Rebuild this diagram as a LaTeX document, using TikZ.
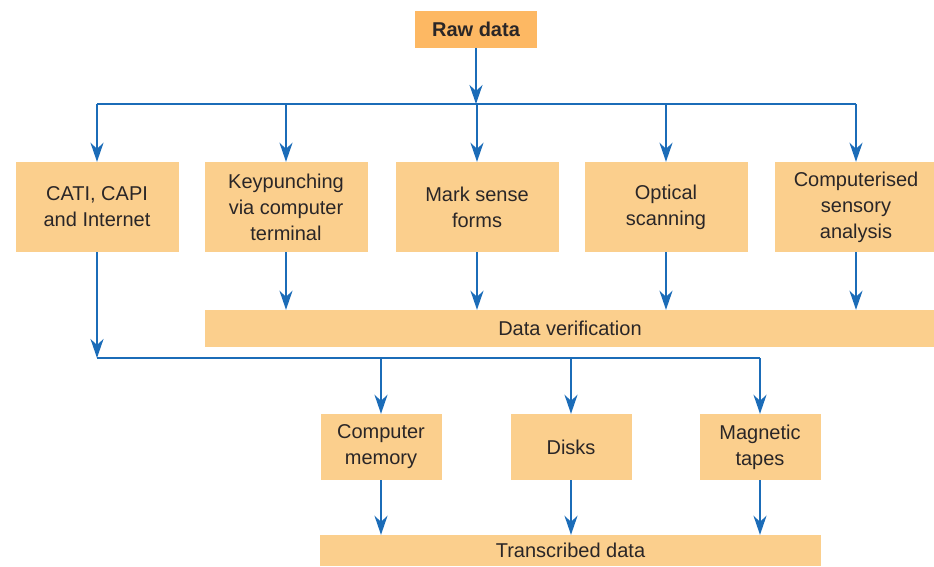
\documentclass[tikz,border=0pt]{standalone}
\usepackage{fontspec}
\setmainfont{Liberation Sans}
\usepackage{xcolor}
\usepackage{tikz}
\usetikzlibrary{
    arrows.meta,
    calc,
    positioning
}
\definecolor{flowblue}{HTML}{1B6CB8}
\definecolor{boxpeach}{HTML}{FBCF8D}
\definecolor{rawpeach}{HTML}{FDB863}
\definecolor{inkgrey}{HTML}{2A2627}
\tikzstyle{arrow}=[line width=2pt,-{Stealth[length=19pt,width=13pt,inset=6pt]},draw=flowblue]
\tikzstyle{wire}=[line width=2pt,draw=flowblue]

\begin{document}
\begin{tikzpicture}[
    x=1pt,y=1pt,
    box/.style={
        rectangle,
        fill=boxpeach,
        text=inkgrey,
        inner sep=0pt,
        minimum width=163pt,
        minimum height=90pt,
        align=center,
        font=\fontsize{20}{26}\selectfont
    },
    store/.style={
        box,
        minimum width=121pt,
        minimum height=66pt
    },
    bar/.style={
        box,
        minimum height=37pt
    }
]
\useasboundingbox (0,0) rectangle (934,566);

\node[box,fill=rawpeach,minimum width=122pt,minimum height=37pt,font=\fontsize{20}{26}\selectfont\bfseries]
    (raw) at (476,536.5) {Raw data};

% capture methods
\node[box] (cati) at (97,359) {CATI, CAPI\\and Internet};
\node[box] (keyp) at (286,359) {Keypunching\\via computer\\terminal};
\node[box] (mark) at (477,359) {Mark sense\\forms};
\node[box] (optic) at (666,359) {Optical\\scanning};
\node[box] (sensory) at (856,359) {Computerised\\sensory\\analysis};

\node[bar,minimum width=730pt] (verify) at (570,237.5) {Data verification};

% storage
\node[store] (memory) at (381,119) {Computer\\memory};
\node[store] (disks) at (571,119) {Disks};
\node[store] (tapes) at (760,119) {Magnetic\\tapes};

\node[bar,minimum width=501pt,minimum height=31pt] (trans) at (570.5,15.5) {Transcribed data};

\coordinate (split) at (476,462);
\coordinate (merge) at (97,208);

\draw[arrow] (raw) -- (split);
\draw[wire] (split -| cati) -- (split -| sensory);
\foreach \n in {cati,keyp,mark,optic,sensory}
    \draw[arrow] (split -| \n) -- (\n.north -| split -| \n);

\foreach \n in {keyp,mark,optic,sensory}
    \draw[arrow] (\n) -- (\n |- verify.north);

\draw[arrow] (cati) -- (merge);
\draw[wire] (merge) -- (merge -| tapes);
\foreach \n in {memory,disks,tapes}
    \draw[arrow] (merge -| \n) -- (\n);

\foreach \n in {memory,disks,tapes}
    \draw[arrow] (\n) -- (\n |- trans.north);
\end{tikzpicture}
\end{document}
